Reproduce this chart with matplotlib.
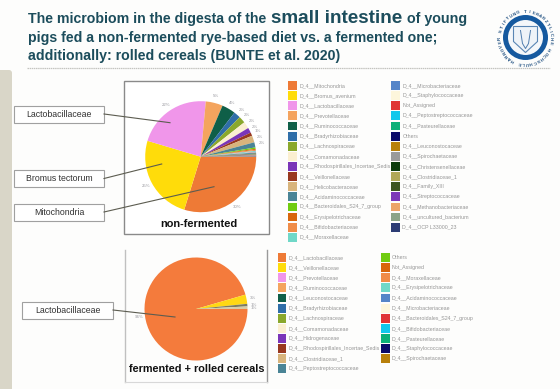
import numpy as np
import matplotlib
matplotlib.use("Agg")
import matplotlib.pyplot as plt
from matplotlib.patches import Rectangle, Circle, Polygon, FancyBboxPatch

W, H = 560, 389
TITLE_COLOR = "#1c4d5c"
LEG_TEXT = "#969696"
FONT = "Liberation Sans"

top_col1 = ["D_4__Mitochondria", "D_4__Bromus_avenium", "D_4__Lactobacillaceae", "D_4__Prevotellaceae",
            "D_4__Ruminococcaceae", "D_4__Bradyrhizobiaceae", "D_4__Lachnospiraceae", "D_4__Comamonadaceae",
            "D_4__Rhodospirillales_Incertae_Sedis", "D_4__Veillonellaceae", "D_4__Helicobacteraceae",
            "D_4__Acidaminococcaceae", "D_4__Bacteroidales_S24_7_group", "D_4__Erysipelotrichaceae",
            "D_4__Bifidobacteriaceae", "D_4__Moraxellaceae"]
top_col2 = ["D_4__Microbacteriaceae", "D_4__Staphylococcaceae", "Not_Assigned", "D_4__Peptostreptococcaceae",
            "D_4__Pasteurellaceae", "Others", "D_4__Leuconostocaceae", "D_4__Spirochaetaceae",
            "D_4__Christensenellaceae", "D_4__Clostridiaceae_1", "D_4__Family_XIII", "D_4__Streptococcaceae",
            "D_4__Methanobacteriaceae", "D_4__uncultured_bacterium", "D_4__OCP L33000_23"]
top_colors1 = ["#ee7a36", "#ffdc0a", "#f096ea", "#f4a45e", "#0f5f48", "#2f6ea8", "#8aa82c", "#fbefd0",
               "#7a35b8", "#98381f", "#d8b47c", "#4a8496", "#70cc10", "#d8660c", "#f08c48", "#70d8c8"]
top_colors2 = ["#5585c8", "#fdf6dc", "#e03535", "#12c8ec", "#0cb078", "#0a0a68", "#b8800c", "#9a9a9a",
               "#0c3c0c", "#b0a858", "#3c5420", "#7c38b8", "#eca468", "#8ca488", "#2c3c74"]
top_values = [30, 25, 22, 5, 4, 2, 2, 2, 1.5, 1, 2, 1.5, 0.4, 0.3, 0.3, 0.2,
              0.1, 0.1, 0.1, 0.1, 0.1, 0.1, 0.1, 0.1, 0.1, 0.1, 0.1, 0.1, 0.1, 0.1, 0.1]

bot_col1 = ["D_4__Lactobacillaceae", "D_4__Veillonellaceae", "D_4__Prevotellaceae", "D_4__Ruminococcaceae",
            "D_4__Leuconostocaceae", "D_4__Bradyrhizobiaceae", "D_4__Lachnospiraceae", "D_4__Comamonadaceae",
            "D_4__Hidrogenaceae", "D_4__Rhodospirillales_Incertae_Sedis", "D_4__Clostridiaceae_1",
            "D_4__Peptostreptococcaceae"]
bot_col2 = ["Others", "Not_Assigned", "D_4__Moraxellaceae", "D_4__Erysipelotrichaceae",
            "D_4__Acidaminococcaceae", "D_4__Microbacteriaceae", "D_4__Bacteroidales_S24_7_group",
            "D_4__Bifidobacteriaceae", "D_4__Pasteurellaceae", "D_4__Staphylococcaceae", "D_4__Spirochaetaceae"]
bot_colors1 = ["#ee7a36", "#ffdc0a", "#f096ea", "#f4a45e", "#0f5f48", "#2f6ea8", "#8aa82c", "#fbefd0",
               "#7a35b8", "#98381f", "#d8b47c", "#4a8496"]
bot_colors2 = ["#70cc10", "#d8660c", "#f08c48", "#70d8c8", "#5585c8", "#fdf6dc", "#e03535", "#12c8ec",
               "#0cb078", "#0a0a68", "#b8800c"]
bot_values = [95.5, 2.9, 0.8, 0.8]
bot_pie_colors = ["#f47b3c", "#ffd814", "#7c7c60", "#d8cca4"]

callouts_top = [("Lactobacillaceae", 106, 123), ("Bromus tectorum", 170, 187), ("Mitochondria", 204, 221)]

fig = plt.figure(figsize=(W / 100, H / 100), dpi=100, facecolor="#fdfdfc")
bg = fig.add_axes([0, 0, 1, 1])
bg.set_xlim(0, W)
bg.set_ylim(H, 0)
bg.axis("off")

# sidebar and rule
bg.add_patch(FancyBboxPatch((-8, 70), 20, 330, boxstyle="round,pad=0,rounding_size=3",
                            fc="#d9d6c8", ec="none"))
bg.plot([27, 550], [68, 68], color="#c4c4c0", lw=0.9, ls=(0, (1.2, 0.5)))

# chart frames
bg.add_patch(Rectangle((124, 81), 145, 153, fc="white", ec="#8a8a8a", lw=1))
bg.plot([125, 125], [250, 382], color="#c0c0c0", lw=1)
bg.plot([267, 267], [250, 382], color="#9a9a9a", lw=1)
bg.plot([125, 267], [382, 382], color="#d8d8d8", lw=0.8)


def draw_pie(cx, cy, r, values, colors, labels):
    pad = 1.3
    ax = fig.add_axes([(cx - r * pad) / W, 1 - (cy + r * pad) / H, 2 * r * pad / W, 2 * r * pad / H])
    ax.patch.set_alpha(0)
    ax.pie(values, colors=colors, labels=labels, startangle=0, counterclock=False, radius=1,
           labeldistance=1.12, rotatelabels=False,
           textprops=dict(fontsize=3.2, color="#9a9aa0", family=FONT, ha="center", va="center"),
           wedgeprops=dict(linewidth=0))
    ax.set_aspect("equal")
    ax.set_xlim(-pad, pad)
    ax.set_ylim(-pad, pad)
    ax.axis("off")
    return ax


top_labels = [f"{v:.0f}%" if v >= 1 else "" for v in top_values]
draw_pie(200.7, 156.7, 55.5, top_values, top_colors1 + top_colors2, top_labels)
bot_labels = [f"{v:.0f}%" for v in bot_values]
draw_pie(196, 309, 51.5, bot_values, bot_pie_colors, bot_labels)

# foreground overlay
fg = fig.add_axes([0, 0, 1, 1])
fg.set_xlim(0, W)
fg.set_ylim(H, 0)
fg.axis("off")
fg.patch.set_alpha(0)

# callouts
for name, y0, y1 in callouts_top:
    fg.add_patch(Rectangle((13.5, y0), 90.5, y1 - y0, fc="white", ec="#a0a0a0", lw=0.8))
    fg.text(59, (y0 + y1) / 2, name, ha="center", va="center", fontsize=6.3, family=FONT, color="#333333")
fg.add_patch(Rectangle((22, 302), 91, 16.5, fc="white", ec="#a0a0a0", lw=0.8))
fg.text(67.5, 310.3, "Lactobacillaceae", ha="center", va="center", fontsize=6.3, family=FONT, color="#333333")
for (x0, y0, x1, y1) in [(104, 114, 170, 122.7), (104, 178.5, 161.7, 164), (104, 212, 214, 186.7),
                         (113, 310, 175, 317)]:
    fg.plot([x0, x1], [y0, y1], color="#5c5c50", lw=0.8)

# chart captions
fg.text(199, 224, "non-fermented", ha="center", va="center", fontsize=7.9, fontweight="bold",
        family=FONT, color="#111111")
fg.text(197, 368.5, "fermented + rolled cereals", ha="center", va="center", fontsize=7.8,
        fontweight="bold", family=FONT, color="#111111")


def legend(x, y0, names, colors, tx):
    size = 8.8
    for i, (n, c) in enumerate(zip(names, colors)):
        y = y0 + i * 10.12
        fg.add_patch(Rectangle((x - size / 2, y - size / 2), size, size, fc=c, ec="none"))
        fg.text(tx, y, n, ha="left", va="center", fontsize=3.8, family=FONT, color=LEG_TEXT)


legend(292.7, 85.5, top_col1, top_colors1, 299.5)
legend(395.7, 85.5, top_col2, top_colors2, 402.5)
legend(282, 257.5, bot_col1, bot_colors1, 289)
legend(385.7, 257.5, bot_col2, bot_colors2, 392)

# title: each run is sized to span its extent in the reference
rend = fig.canvas.get_renderer()


def fit_text(s, x0, x1, y):
    t = fg.text(x0, y, s, fontsize=10, family=FONT, fontweight="bold", color=TITLE_COLOR,
                va="baseline", ha="left")
    bb = t.get_window_extent(rend)
    t.set_fontsize(10 * (x1 - x0) / bb.width)
    return t


fit_text("The microbiom in the digesta of the", 28, 266, 23)
fit_text("small intestine", 271, 402, 23)
fit_text("of young", 407, 467, 23)
fit_text("pigs fed a non-fermented rye-based diet vs. a fermented one;", 28, 438, 41.5)
fit_text("additionally: rolled cereals (BUNTE et al. 2020)", 28, 339, 59.5)

# seal
cx, cy = 525.5, 37.5
fg.add_patch(Circle((cx, cy), 22.5, fc="#15599f", ec="none"))
fg.add_patch(Circle((cx, cy), 17.5, fc="#f4f7fa", ec="none"))
fg.add_patch(Polygon([(cx - 12, cy - 11), (cx + 12, cy - 11), (cx + 12, cy + 4), (cx, cy + 15), (cx - 12, cy + 4)],
                     closed=True, fc="#eef3f8", ec="#5a86b4", lw=0.8))
fg.plot([cx - 5, cx - 3, cx, cx + 3, cx + 5], [cy - 7, cy + 6, cy + 11, cy + 6, cy - 7], color="#4f7dae", lw=0.7)
seal = "STIFTUNG TIERÄRZTLICHE HOCHSCHULE HANNOVER "
angs = np.deg2rad(np.linspace(195, 195 + 360, len(seal), endpoint=False))
for ch, a in zip(seal, angs):
    fg.text(cx + 25.5 * np.cos(a), cy + 25.5 * np.sin(a), ch, ha="center", va="center", fontsize=3.2,
            fontweight="bold", family=FONT, color="#1f4f80", rotation=-np.rad2deg(a) - 90)

fig.savefig("out.png", dpi=100, facecolor=fig.get_facecolor())
